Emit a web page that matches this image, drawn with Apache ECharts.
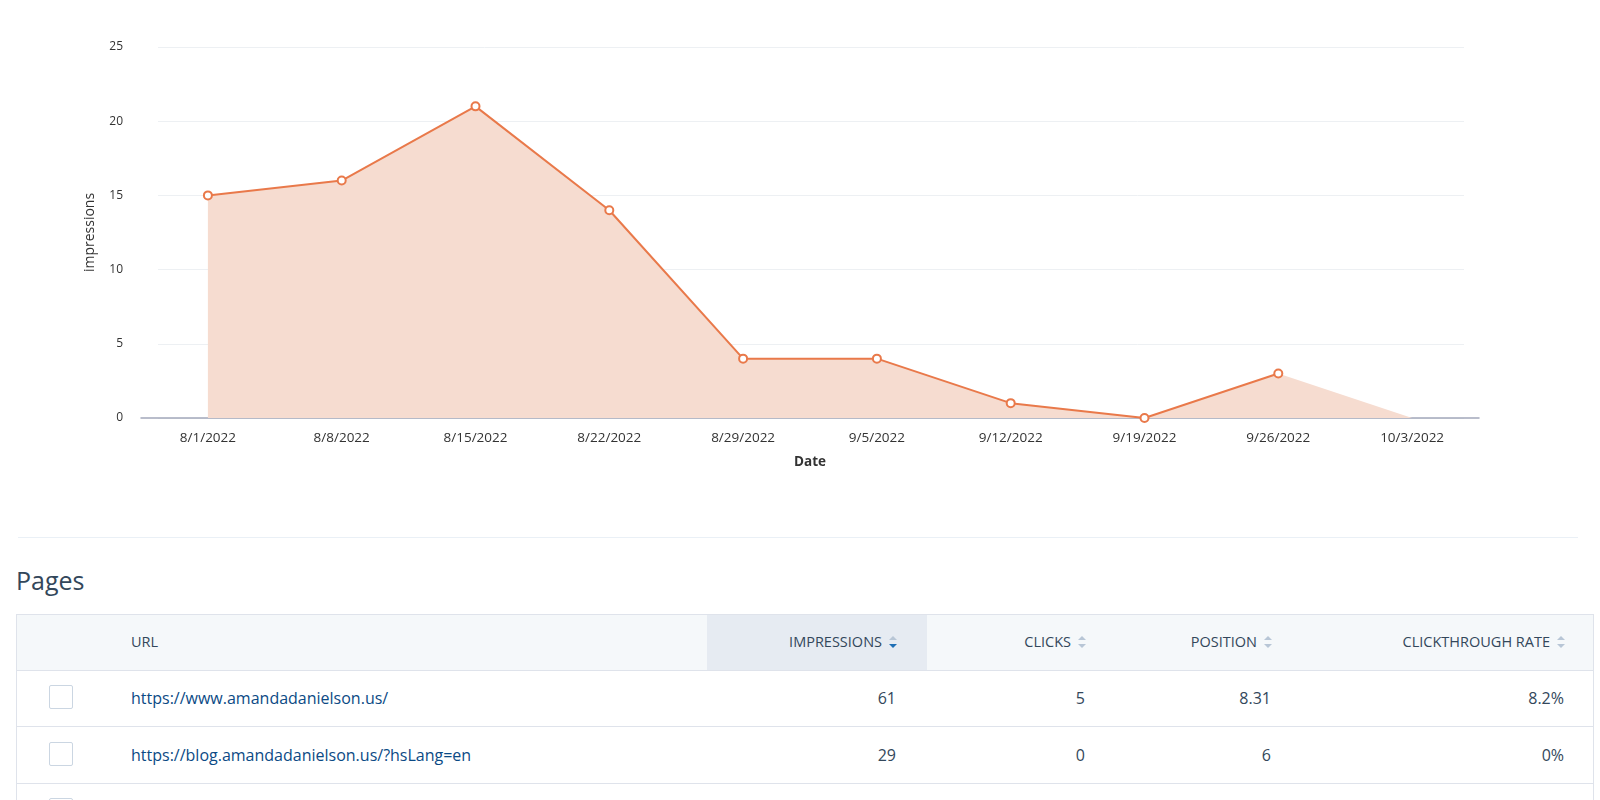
<!DOCTYPE html>
<html>
<head>
<meta charset="utf-8">
<script src="https://cdn.jsdelivr.net/npm/echarts@6/dist/echarts.min.js"></script>
<style>
  html, body { margin: 0; padding: 0; background: #fff; }
  body { width: 1600px; height: 800px; position: relative; overflow: hidden; font-family: "Open Sans", "Lato", sans-serif; color: #33475b; }
  #chart { position: absolute; left: 0; top: 0; width: 1600px; height: 500px; }
  .sep { position: absolute; left: 18px; width: 1560px; top: 537px; height: 1px; background: #eaf0f6; }
  .title { position: absolute; left: 16px; top: 562px; font-size: 25px; line-height: 36px; font-weight: 500; color: #33475b; }
  .table { position: absolute; left: 16px; top: 614px; width: 1578px; height: 200px; border: 1px solid #dfe3eb; border-bottom: none; box-sizing: border-box; }
  .hdr { position: absolute; left: 0; top: 0; right: 0; height: 55px; background: #f5f8fa; border-bottom: 1px solid #dfe3eb; }
  .hl { position: absolute; top: 0; height: 55px; left: 690px; width: 220px; background: #e6ebf2; }
  .cell { position: absolute; white-space: nowrap; }
  .hcell { font-size: 14.5px; color: #33475b; line-height: 20px; top: 17px; }
  .row { position: absolute; left: 0; right: 0; height: 56px; border-bottom: 1px solid #dfe3eb; }
  .vcell { font-size: 16px; line-height: 22px; top: 17px; color: #33475b; }
  .url { color: #0b4a85; }
  .cb { position: absolute; left: 32px; top: 15px; width: 22px; height: 22px; border: 1px solid #cbd6e2; border-radius: 2px; background: #fff; }
  .sort { display: inline-block; vertical-align: middle; margin-left: 7px; width: 8px; height: 13px; position: relative; top: -1px; }
  .sort i { position: absolute; left: 0; width: 0; height: 0; border-left: 4px solid transparent; border-right: 4px solid transparent; }
  .sort .up { top: 0; border-bottom: 4.5px solid #b8c6d6; }
  .sort .dn { top: 8px; border-top: 4.5px solid #b8c6d6; }
  .sort .dn.act { border-top-color: #1f6fb5; }
</style>
</head>
<body>
<div id="chart"></div>
<div class="sep"></div>
<div class="title">Pages</div>
<div class="table" id="table"></div>
<script>
// ---- chart data ----
var dates = ['8/1/2022', '8/8/2022', '8/15/2022', '8/22/2022', '8/29/2022', '9/5/2022', '9/12/2022', '9/19/2022', '9/26/2022', '10/3/2022'];
var areaValues = [15, 16, 21, 14, 4, 4, 1, 0, 3, 0];
var lineValues = [15, 16, 21, 14, 4, 4, 1, 0, 3, null];
var yTicks = [0, 5, 10, 15, 20, 25];

// ---- table data ----
var tableHeaders = ['URL', 'IMPRESSIONS', 'CLICKS', 'POSITION', 'CLICKTHROUGH RATE'];
var pageUrls = ['https://www.amandadanielson.us/', 'https://blog.amandadanielson.us/?hsLang=en'];
var pageImpressions = [61, 29];
var pageClicks = [5, 0];
var pagePositions = ['8.31', '6'];
var pageCtr = ['8.2%', '0%'];

var chart = echarts.init(document.getElementById('chart'), null, { renderer: 'canvas' });
var txt = '#333333';
chart.setOption({
  animation: false,
  backgroundColor: '#ffffff',
  textStyle: { fontFamily: 'Open Sans' },
  grid: [
    { left: 141, right: 121, top: 47, bottom: 82 },
    { left: 158, right: 136, top: 47, bottom: 82 }
  ],
  xAxis: [
    {
      type: 'category', gridIndex: 0, data: dates, boundaryGap: true,
      name: 'Date', nameLocation: 'middle', nameGap: 37,
      nameTextStyle: { color: txt, fontSize: 13.5, fontWeight: 'bold' },
      axisLine: { lineStyle: { color: '#a3a8ba', width: 1.5 } },
      axisTick: { show: false },
      axisLabel: { color: txt, fontSize: 13.5, margin: 13, interval: 0 },
      splitLine: { show: false }
    },
    { type: 'value', gridIndex: 1, min: 0, max: 1, show: false }
  ],
  yAxis: [
    {
      type: 'value', gridIndex: 0, min: yTicks[0], max: yTicks[yTicks.length - 1], interval: 5,
      name: 'impressions', nameLocation: 'middle', nameGap: 44, nameRotate: 90,
      nameTextStyle: { color: txt, fontSize: 14 },
      axisLine: { show: false }, axisTick: { show: false },
      axisLabel: { color: txt, fontSize: 12, margin: 18 },
      splitLine: { show: false }
    },
    {
      type: 'value', gridIndex: 1, min: yTicks[0], max: yTicks[yTicks.length - 1], interval: 5,
      axisLine: { show: false }, axisTick: { show: false }, axisLabel: { show: false },
      splitLine: { show: true, lineStyle: { color: '#edf0f3', width: 1 } }
    }
  ],
  series: [
    {
      type: 'line', xAxisIndex: 0, yAxisIndex: 0, data: areaValues,
      showSymbol: false, symbol: 'none',
      lineStyle: { width: 0, opacity: 0 },
      areaStyle: { color: '#f6dcd0', opacity: 1 },
      silent: true, z: 2
    },
    {
      type: 'line', xAxisIndex: 0, yAxisIndex: 0, data: lineValues,
      symbol: 'circle', symbolSize: 8, showSymbol: true, connectNulls: false,
      lineStyle: { color: '#e9794a', width: 2 },
      itemStyle: { color: '#ffffff', borderColor: '#e9794a', borderWidth: 2 },
      z: 3
    }
  ]
});

// ---- build table ----
var tbl = document.getElementById('table');
function el(cls, html, style) {
  var d = document.createElement('div');
  d.className = cls;
  if (html !== undefined) d.innerHTML = html;
  if (style) for (var k in style) d.style[k] = style[k];
  return d;
}
function sortIcon(active) {
  return '<span class="sort"><i class="up"></i><i class="dn' + (active ? ' act' : '') + '"></i></span>';
}
var tableW = 1578;
var hdr = el('hdr');
hdr.appendChild(el('hl'));
hdr.appendChild(el('cell hcell', tableHeaders[0], { left: '114px' }));
// right edges of the numeric columns (relative to table left)
var colRight = [879, 1068, 1254, 1547];
for (var i = 1; i < tableHeaders.length; i++) {
  hdr.appendChild(el('cell hcell', tableHeaders[i] + sortIcon(i === 1), { right: (tableW - 2 - colRight[i - 1] - 1) + 'px' }));
}
tbl.appendChild(hdr);
for (var r = 0; r < pageUrls.length; r++) {
  var row = el('row', undefined, { top: (55 + r * 56.7) + 'px' });
  row.appendChild(el('cb'));
  row.appendChild(el('cell vcell url', pageUrls[r], { left: '114px' }));
  var vals = [pageImpressions[r], pageClicks[r], pagePositions[r], pageCtr[r]];
  for (var c = 0; c < vals.length; c++) {
    row.appendChild(el('cell vcell', String(vals[c]), { right: (tableW - 2 - colRight[c]) + 'px' }));
  }
  tbl.appendChild(row);
}
var row3 = el('row', undefined, { top: (55 + 2 * 56.7) + 'px', borderBottom: 'none' });
row3.appendChild(el('cb'));
tbl.appendChild(row3);
</script>
</body>
</html>
